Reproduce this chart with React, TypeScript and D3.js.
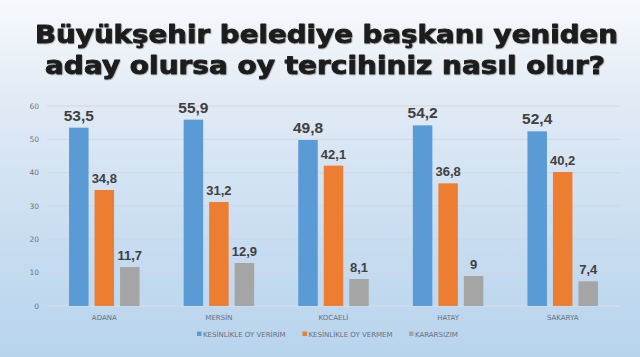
import React from "react";
import * as d3 from "d3";

const categories = ["ADANA", "MERSİN", "KOCAELİ", "HATAY", "SAKARYA"];
const seriesNames = ["KESİNLİKLE OY VERİRİM", "KESİNLİKLE OY VERMEM", "KARARSIZIM"];
const veririm = [53.5, 55.9, 49.8, 54.2, 52.4];
const vermem = [34.8, 31.2, 42.1, 36.8, 40.2];
const kararsizim = [11.7, 12.9, 8.1, 9, 7.4];
const yTicks = [0, 10, 20, 30, 40, 50, 60];
const titleLines = ["Büyükşehir belediye başkanı yeniden", "aday olursa oy tercihiniz nasıl olur?"];

const colors = ["#5b9bd5", "#ed7d31", "#a5a5a5"];
const W = 640;
const H = 357;

export default function App() {
  const seriesValues = [veririm, vermem, kararsizim];
  const x0 = d3.scaleBand<string>().domain(categories).range([47, 620]).padding(0);
  const y = d3.scaleLinear().domain([0, 60]).range([306, 106]);
  const fmt = (v: number) => String(v).replace(".", ",");

  const legendX = [197, 302.5, 409];

  return (
    <svg width={W} height={H} style={{ position: "absolute", left: 0, top: 0 }}>
      <defs>
        <linearGradient id="bg" x1="0" y1="0" x2="0" y2="1">
          <stop offset="0" stopColor="#f7f9fc" />
          <stop offset="0.3" stopColor="#e0eaf5" />
          <stop offset="0.7" stopColor="#c6dcf0" />
          <stop offset="1" stopColor="#b8d4ed" />
        </linearGradient>
        <filter id="ts" x="-5%" y="-20%" width="110%" height="140%">
          <feDropShadow dx="0.6" dy="0.6" stdDeviation="0.7" floodColor="#777" floodOpacity="0.7" />
        </filter>
      </defs>
      <rect x={0} y={0} width={W} height={H} fill="url(#bg)" />

      {/* title */}
      <g
        filter="url(#ts)"
        fontFamily="'DejaVu Sans', sans-serif"
        fontWeight="bold"
        fill="#1c1c1c"
        stroke="#1c1c1c"
        strokeWidth={0.9}
        strokeLinejoin="round"
      >
        <text x={35} y={42.5} fontSize={24} textLength={583} lengthAdjust="spacingAndGlyphs">
          {titleLines[0]}
        </text>
        <text x={45} y={73.5} fontSize={24} textLength={560} lengthAdjust="spacingAndGlyphs">
          {titleLines[1]}
        </text>
      </g>

      {/* gridlines */}
      {yTicks.map((t) => (
        <line
          key={"g" + t}
          x1={47}
          x2={620}
          y1={y(t)}
          y2={y(t)}
          stroke={t === 0 ? "#d6e0ea" : "#cfd8e2"}
          strokeWidth={1}
        />
      ))}
      {yTicks.map((t) => (
        <text
          key={"t" + t}
          x={39}
          y={y(t)}
          dy="0.35em"
          textAnchor="end"
          fontSize={7.5}
          fontFamily="'DejaVu Sans', sans-serif"
          fill="#6b7480"
        >
          {t}
        </text>
      ))}

      {/* bars */}
      {categories.map((c, i) => {
        const cx = (x0(c) as number) + x0.bandwidth() / 2;
        const x1 = d3
          .scaleBand<number>()
          .domain([0, 1, 2])
          .range([cx - 35.25, cx + 35.25])
          .paddingInner(0.235);
        return (
          <g key={c}>
            {seriesValues.map((vals, s) => {
              const v = vals[i];
              const bx = x1(s) as number;
              const bw = x1.bandwidth();
              return (
                <g key={s}>
                  <rect x={bx} y={y(v)} width={bw} height={y(0) - y(v)} fill={colors[s]} />
                  <text
                    x={bx + bw / 2}
                    y={y(v) - 7}
                    textAnchor="middle"
                    fontFamily="'Liberation Sans', Arial, sans-serif"
                    fontWeight="bold"
                    fontSize={s === 0 ? 15.5 : 13}
                    fill="#404040"
                  >
                    {fmt(v)}
                  </text>
                </g>
              );
            })}
            <text
              x={cx}
              y={320}
              textAnchor="middle"
              fontSize={7}
              fontFamily="'DejaVu Sans', sans-serif"
              fill="#66707c"
            >
              {c}
            </text>
          </g>
        );
      })}

      {/* legend */}
      {seriesNames.map((n, s) => (
        <g key={n}>
          <rect x={legendX[s]} y={331.5} width={4.5} height={4.5} fill={colors[s]} />
          <text
            x={legendX[s] + 6}
            y={336.5}
            fontSize={7}
            fontFamily="'DejaVu Sans', sans-serif"
            fill="#66707c"
          >
            {n}
          </text>
        </g>
      ))}
    </svg>
  );
}
